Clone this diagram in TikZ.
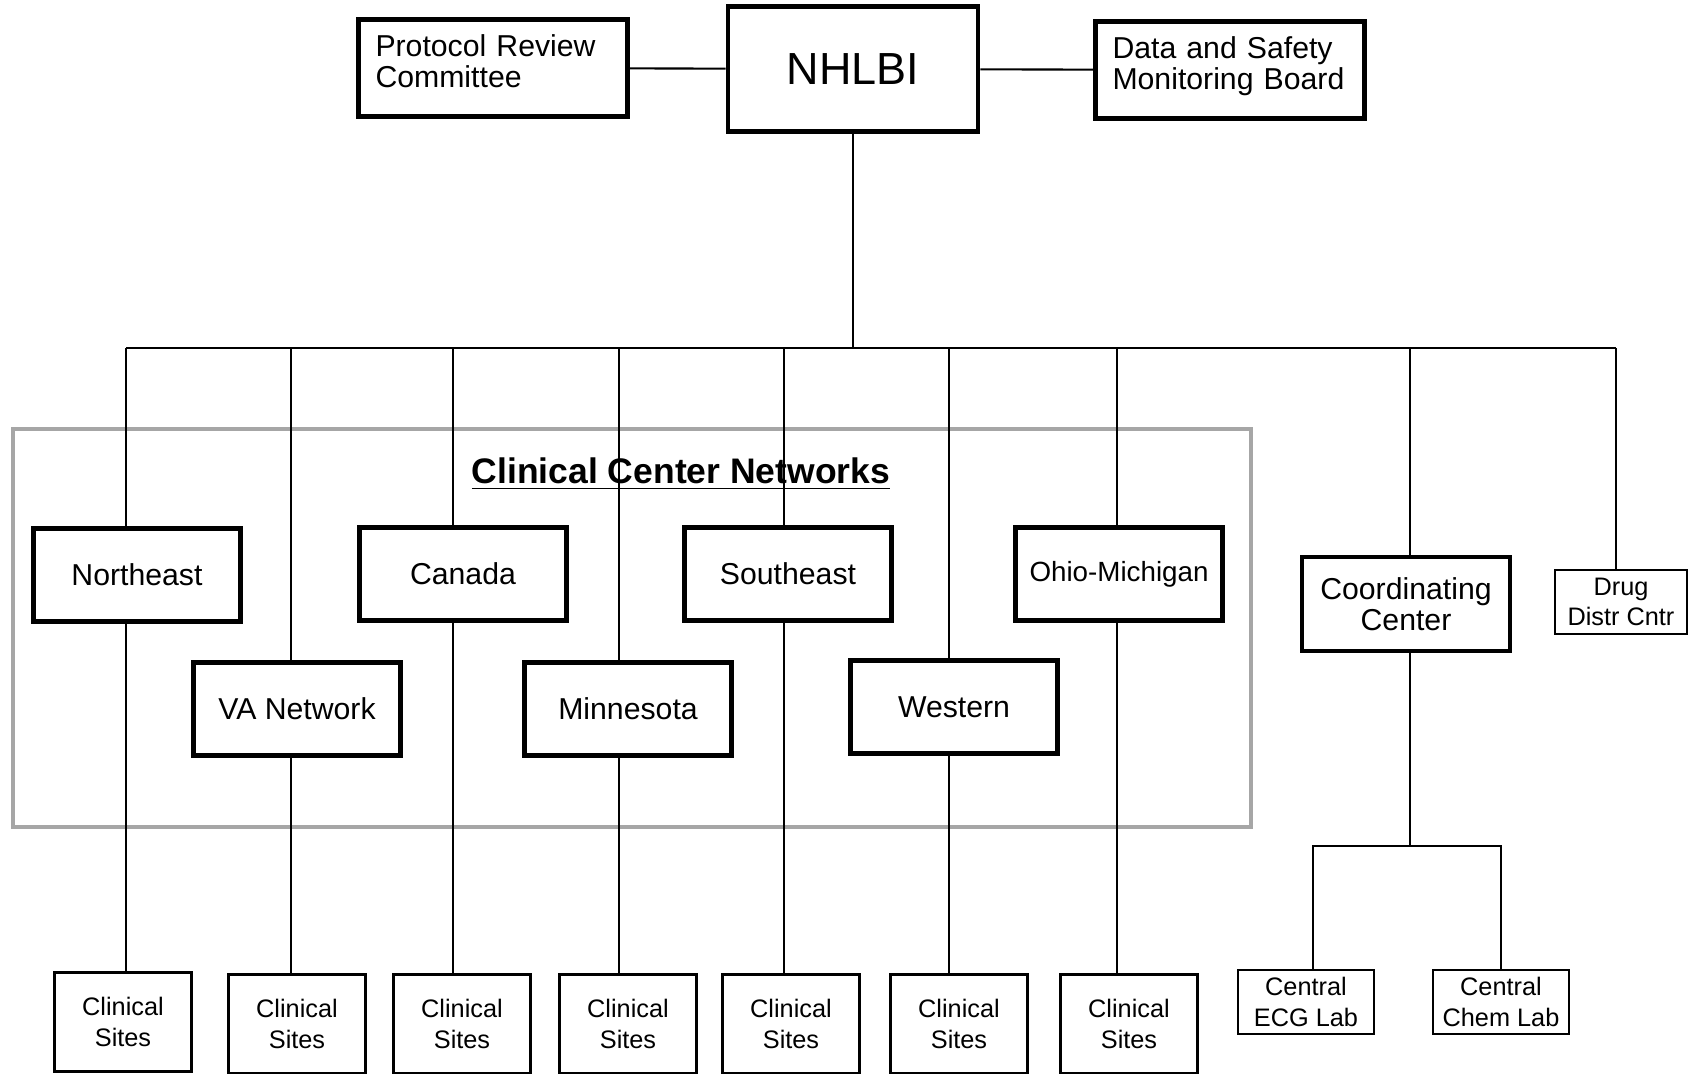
\documentclass[tikz,border=0pt]{standalone}
\usepackage{fontspec}
\setmainfont{Liberation Sans}
\usepackage{tikz}
\usetikzlibrary{positioning}

\begin{document}
\begin{tikzpicture}[
  chief/.style={rectangle, draw, line width=1.3pt, align=center, font=\fontsize{12.8}{14}\selectfont,
                minimum width=2.50cm, minimum height=1.25cm, inner sep=0pt},
  panel/.style={rectangle, draw, line width=1.3pt, align=left, text width=2.35cm, inner xsep=0.17cm,
                minimum height=0.97cm, text depth=13pt, font=\fontsize{8.6}{8.8}\selectfont},
  net/.style={rectangle, draw, line width=1.3pt, align=center, font=\fontsize{8.6}{8.8}\selectfont,
              minimum width=2.07cm, minimum height=0.93cm, inner sep=0pt},
  site/.style={rectangle, draw, line width=0.75pt, align=center, font=\fontsize{7.2}{8.6}\selectfont,
               minimum width=1.37cm, minimum height=0.99cm, inner sep=0pt},
  lab/.style={site, minimum width=1.36cm, minimum height=0.64cm},
  link/.style={line width=0.6pt},
  netframe/.style={draw=gray!70, line width=1.4pt}
]
  \useasboundingbox (0,0) rectangle (16.88,10.73);

  % top level
  \node[chief] (NHLBI) at (8.53, 10.04) {NHLBI};
  \node[panel] (PRC) at (4.93, 10.05) {Protocol Review\\Committee};
  \node[panel] (DSMB) at (12.30, 10.03) {Data and Safety\\Monitoring Board};
  \draw[link] (PRC) -- (NHLBI);
  \draw[link] (NHLBI) -- (DSMB);

  % bus
  \coordinate (bNE) at (1.26, 7.25);
  \coordinate (bVA) at (2.91, 7.25);
  \coordinate (bCA) at (4.53, 7.25);
  \coordinate (bMN) at (6.19, 7.25);
  \coordinate (bSE) at (7.84, 7.25);
  \coordinate (bWE) at (9.49, 7.25);
  \coordinate (bOM) at (11.17, 7.25);
  \coordinate (bCC) at (14.10, 7.25);
  \coordinate (bDD) at (16.16, 7.25);
  \draw[link] (NHLBI.south) -- (NHLBI.south |- bNE);
  \draw[link] (bNE) -- (bDD);

  % clinical center networks
  \draw[netframe] (0.13, 2.46) rectangle (12.51, 6.44);
  \node[font=\fontsize{10.1}{12}\selectfont\bfseries] (title) at (6.81, 5.99) {\underline{Clinical Center Networks}};

  \node[net] (NE) at (1.37, 4.98) {Northeast};
  \node[net] (VA) at (2.97, 3.64) {VA Network};
  \node[net] (CA) at (4.63, 4.99) {Canada};
  \node[net] (MN) at (6.28, 3.64) {Minnesota};
  \node[net] (SE) at (7.88, 4.99) {Southeast};
  \node[net] (WE) at (9.54, 3.66) {Western};
  \node[net, font=\fontsize{7.9}{8.8}\selectfont] (OM) at (11.19, 4.99) {Ohio-Michigan};

  \node[site] (CS1) at (1.23, 0.51) {Clinical\\Sites};
  \node[site] (CS2) at (2.97, 0.49) {Clinical\\Sites};
  \node[site] (CS3) at (4.62, 0.49) {Clinical\\Sites};
  \node[site] (CS4) at (6.28, 0.49) {Clinical\\Sites};
  \node[site] (CS5) at (7.91, 0.49) {Clinical\\Sites};
  \node[site] (CS6) at (9.59, 0.49) {Clinical\\Sites};
  \node[site] (CS7) at (11.29, 0.49) {Clinical\\Sites};

  \foreach \b/\n/\s in {bNE/NE/CS1, bVA/VA/CS2, bCA/CA/CS3, bMN/MN/CS4,
                        bSE/SE/CS5, bWE/WE/CS6, bOM/OM/CS7} {
    \draw[link] (\b) -- (\b |- \n.north);
    \draw[link] (\n.south -| \b) -- (\s.north -| \b);
  }

  % coordinating side
  \node[net, minimum width=2.08cm, minimum height=0.94cm] (CC) at (14.06, 4.69) {Coordinating\\Center};
  \node[lab, minimum width=1.32cm] (DD) at (16.21, 4.71) {Drug\\Distr Cntr};
  \draw[link] (bCC) -- (bCC |- CC.north);
  \draw[link] (bDD) -- (bDD |- DD.north);

  \node[lab] (ECG) at (13.06, 0.71) {Central\\ECG Lab};
  \node[lab] (CHEM) at (15.01, 0.71) {Central\\Chem Lab};
  \coordinate (fork) at (14.10, 2.27);
  \draw[link] (CC.south -| fork) -- (fork);
  \draw[link] (ECG.north -| 13.13,0) |- (fork) -| (CHEM.north);
\end{tikzpicture}
\end{document}
